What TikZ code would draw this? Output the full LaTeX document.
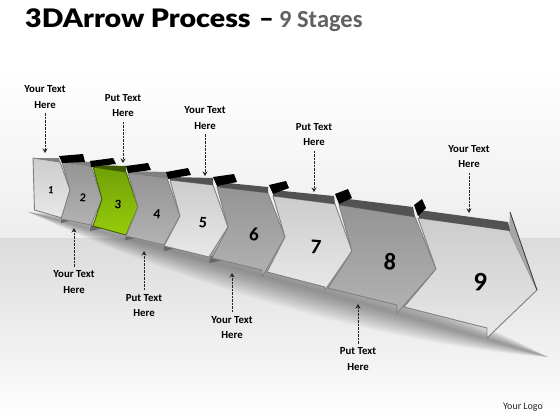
\documentclass[tikz,border=0pt]{standalone}
\usepackage{fontspec}
\setmainfont{Carlito}
\newfontfamily\titlefont{Lato Black}
\definecolor{edgeg}{gray}{0.50}
\definecolor{greenA}{RGB}{112,160,8}
\definecolor{greenB}{RGB}{150,205,10}
\tikzset{
  lightarrow/.style={draw=edgeg,line width=0.9pt,line join=round,top color=black!20,bottom color=black!9},
  darkarrow/.style={draw=edgeg,line width=0.9pt,line join=round,top color=black!42,bottom color=black!30},
  greenarrow/.style={draw=greenA!60!black,line width=0.9pt,line join=round,top color=greenA,bottom color=greenB},
  band/.style={fill=black!68},
  lband/.style={fill=black!50},
  tab/.style={fill=black},
  wedge/.style={fill=black!60},
  lbl/.style={font=\bfseries\fontsize{10.8}{15.5}\selectfont,align=center,text=black,inner sep=0pt},
  num/.style={font=\bfseries,text=black,inner sep=0pt},
  pointer/.style={draw=black!85,line width=1pt,dash pattern=on 2.2pt off 1.3pt,-{Stealth[length=4.5pt,width=5pt]}}
}
\usetikzlibrary{arrows.meta}
\begin{document}
\begin{tikzpicture}[x=1pt,y=-1pt]
\useasboundingbox (0,0) rectangle (560,420);
% background
\shade[top color=white,bottom color=black!7] (0,70) rectangle (560,238);
\shade[top color=black!14,bottom color=white] (0,238) rectangle (560,420);
% soft shadow: stacked lens shapes along the lower edge
\foreach \d in {2,4,...,34}{
  \fill[black,opacity=0.022] (28,212) .. controls (200,{258+\d}) and (400,{313+\d}) .. (548,357)
    .. controls (400,{313-\d}) and (200,{258-\d}) .. (28,212) -- cycle;
}
% title
\node[anchor=base west,inner sep=0pt,font=\titlefont\fontsize{25.5}{28}\selectfont,xscale=1.12] (title) at (25,28) {3DArrow Process};
\node[anchor=base west,inner sep=0pt,font=\titlefont\fontsize{25.5}{28}\selectfont] (dash) at (259,28) {\char"2013};
\node[anchor=base west,inner sep=0pt,font=\bfseries\fontsize{24.5}{28}\selectfont,text=black!62] (sub) at (279,28) {9 Stages};
% wedges
\fill[wedge] (62,217) -- (61,223) -- (74,220) -- cycle;
\fill[wedge] (91,225) -- (90,231) -- (103,228) -- cycle;
\fill[wedge] (126,235) -- (125,240) -- (137,238) -- cycle;
\fill[wedge] (164,245) -- (164,251) -- (177,248) -- cycle;
\fill[wedge] (211,256) -- (209,263) -- (224,260) -- cycle;
% arrows
\path[lightarrow] (33,158) -- (60,162) -- (70,190) -- (62,218) -- (34.5,210) -- cycle;
\path[darkarrow] (62,162) -- (91,166) -- (102,199) -- (91,225) -- (61,219) -- (70,190) -- cycle;
\path[greenarrow] (93,167) -- (126,172) -- (138,207) -- (126,235) -- (93,226) -- (102,199) -- cycle;
\path[darkarrow] (128,173) -- (167,178) -- (180,216) -- (164,245) -- (126,236) -- (138,207) -- cycle;
\path[lightarrow] (170,180) -- (213,185) -- (228,227) -- (209,257) -- (164,246) -- (180,216) -- cycle;
\path[darkarrow] (217,187) -- (268,193) -- (285,237) -- (262,277) -- (262,270) -- (212,258) -- (228,227) -- cycle;
\path[lightarrow] (273,196) -- (335,204) -- (352,251) -- (325,290) -- (325,287) -- (267,272) -- (285,237) -- cycle;
\path[darkarrow] (339,205) -- (415,217) -- (436,269) -- (397,313) -- (397,305) -- (328,288) -- (352,251) -- cycle;
\path[lightarrow] (418,218) -- (509,230) -- (537,290) -- (487,338) -- (487,328) -- (404,307) -- (436,269) -- cycle;
% arrowhead side of 9
\fill[black!35] (510,212) -- (537,290) -- (509,230) -- cycle;
\draw[black!75,line width=0.9pt] (510,212) -- (537,290);
% top bands
\fill[lband] (33,158) -- (59,158) -- (60,162) -- cycle;
\fill[lband] (62,160) -- (90,162) -- (91,166) -- (62,162) -- cycle;
\fill[greenA!55!black] (93,165) -- (126,166) -- (126,172) -- (93,167) -- cycle;
\fill[lband] (128,171) -- (167,172) -- (167,178) -- (128,173) -- cycle;
\fill[band] (170,177) -- (213,178) -- (213,185) -- (170,180) -- cycle;
\fill[band] (217,182) -- (268,187) -- (268,193) -- (217,187) -- cycle;
\fill[band] (273,190) -- (334,196) -- (335,204) -- (273,196) -- cycle;
\fill[band] (340,198) -- (413,207) -- (415,217) -- (339,205) -- cycle;
\fill[band] (419,210) -- (508,222) -- (510,231) -- (419,218) -- cycle;
% tabs
\fill[tab] (59,156) -- (83,154) -- (85,162) -- (62,163) -- cycle;
\fill[tab] (90,161) -- (113,158) -- (116,164) -- (91,167) -- cycle;
\fill[tab] (126,166) -- (148,163) -- (151,170) -- (128,173) -- cycle;
\fill[tab] (166,172) -- (188,168) -- (191,175) -- (168,179) -- cycle;
\fill[tab] (213,177) -- (234,174) -- (237,182) -- (217,186) -- cycle;
\fill[tab] (269,185) -- (286,181) -- (289,188) -- (273,194) -- cycle;
\fill[tab] (335,194) -- (348,189) -- (352,198) -- (339,204) -- cycle;
\fill[tab] (414,205) -- (422,199) -- (426,208) -- (418,216) -- cycle;
% numbers
\node[num,font=\bfseries\fontsize{11}{11}\selectfont,rotate=-4] (n1) at (51,190) {1};
\node[num,font=\bfseries\fontsize{12}{12}\selectfont,rotate=-4] (n2) at (83,198) {2};
\node[num,font=\bfseries\fontsize{13}{13}\selectfont,rotate=-4] (n3) at (118,205) {3};
\node[num,font=\bfseries\fontsize{14}{14}\selectfont,rotate=-4] (n4) at (157,214) {4};
\node[num,font=\bfseries\fontsize{16}{16}\selectfont,rotate=-4] (n5) at (203,223) {5};
\node[num,font=\bfseries\fontsize{19}{19}\selectfont,rotate=-4] (n6) at (254,234) {6};
\node[num,font=\bfseries\fontsize{21}{21}\selectfont,rotate=-4] (n7) at (316,247) {7};
\node[num,font=\bfseries\fontsize{24}{24}\selectfont,rotate=-4] (n8) at (390,262) {8};
\node[num,font=\bfseries\fontsize{27}{27}\selectfont,rotate=-4] (n9) at (480,282) {9};
% labels
\node[lbl] (l1) at (45,97) {Your Text\\Here};
\node[lbl] (l2) at (123,105.5) {Put Text\\Here};
\node[lbl] (l3) at (205,118) {Your Text\\Here};
\node[lbl] (l4) at (314,134.5) {Put Text\\Here};
\node[lbl] (l5) at (469,156.5) {Your Text\\Here};
\node[lbl] (b1) at (74,282) {Your Text\\Here};
\node[lbl] (b2) at (144,305.5) {Put Text\\Here};
\node[lbl] (b3) at (232,327.5) {Your Text\\Here};
\node[lbl] (b4) at (358,359) {Put Text\\Here};
\node[inner sep=0pt,font=\fontsize{10}{12}\selectfont,text=black!85] (logo) at (523,407) {Your Logo};
% pointer ends
\coordinate (t1) at (45,153);
\coordinate (t2) at (123,163);
\coordinate (t3) at (205,176);
\coordinate (t4) at (314,192);
\coordinate (t5) at (469,213);
\coordinate (u1) at (74,228);
\coordinate (u2) at (144,251);
\coordinate (u3) at (232,273);
\coordinate (u4) at (358,304);
\draw[pointer] (l1.south) ++(0,5) -- (t1);
\draw[pointer] (l2.south) ++(0,5) -- (t2);
\draw[pointer] (l3.south) ++(0,5) -- (t3);
\draw[pointer] (l4.south) ++(0,5) -- (t4);
\draw[pointer] (l5.south) ++(0,5) -- (t5);
\draw[pointer] (b1.north) ++(0,-4) -- (u1);
\draw[pointer] (b2.north) ++(0,-4) -- (u2);
\draw[pointer] (b3.north) ++(0,-4) -- (u3);
\draw[pointer] (b4.north) ++(0,-4) -- (u4);
\end{tikzpicture}
\end{document}
